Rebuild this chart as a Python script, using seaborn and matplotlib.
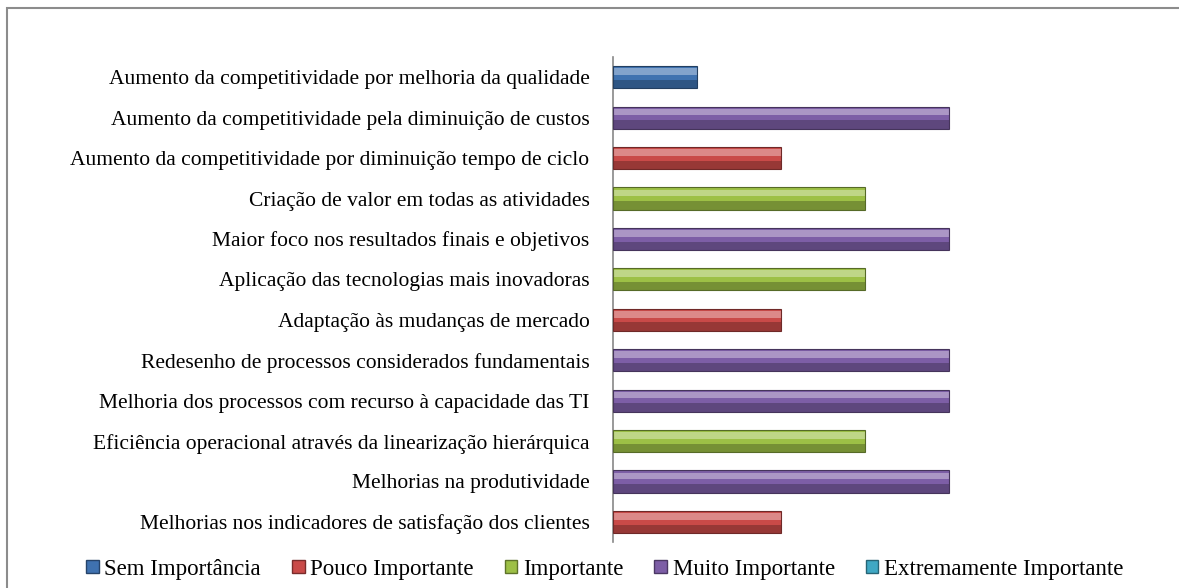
import matplotlib
matplotlib.use("Agg")
import matplotlib.pyplot as plt
import seaborn as sns
import pandas as pd
from matplotlib.patches import Patch, Rectangle

categories = [
    "Aumento da competitividade por melhoria da qualidade",
    "Aumento da competitividade pela diminuição de custos",
    "Aumento da competitividade por diminuição tempo de ciclo",
    "Criação de valor em todas as atividades",
    "Maior foco nos resultados finais e objetivos",
    "Aplicação das tecnologias mais inovadoras",
    "Adaptação às mudanças de mercado",
    "Redesenho de processos considerados fundamentais",
    "Melhoria dos processos com recurso à capacidade das TI",
    "Eficiência operacional através da linearização hierárquica",
    "Melhorias na produtividade",
    "Melhorias nos indicadores de satisfação dos clientes",
]
values = [1, 4, 2, 3, 4, 3, 2, 4, 4, 3, 4, 2]
levels = ["Sem Importância", "Pouco Importante", "Importante",
          "Muito Importante", "Extremamente Importante"]
colors = ["#3F72B0", "#C94A48", "#9DC046", "#7D5EA6", "#3FA8C4"]

df = pd.DataFrame({"cat": categories, "val": values,
                   "nivel": [levels[v - 1] for v in values]})

sns.set_theme(style="white")
plt.rcParams["font.family"] = ["Liberation Serif", "DejaVu Serif"]
plt.rcParams["text.color"] = "black"
plt.rcParams["ytick.color"] = "black"

fig = plt.figure(figsize=(11.79, 5.88), dpi=100)
ax = fig.add_axes([0.52, 0.078, 0.463, 0.825])

palette = dict(zip(levels, colors))
sns.barplot(data=df, y="cat", x="val", hue="nivel", hue_order=levels,
            palette=palette, dodge=False, width=0.55, ax=ax,
            saturation=1, legend=False, edgecolor="none")

# bevel highlight / shadow on each bar
for p in list(ax.patches):
    if p.get_width() <= 0:
        continue
    x0, y0 = p.get_x(), p.get_y()
    w, h = p.get_width(), p.get_height()
    base = p.get_facecolor()
    dark = tuple(c * 0.75 for c in base[:3])
    light = tuple(min(1, c + (1 - c) * 0.35) for c in base[:3])
    ax.add_patch(Rectangle((x0, y0 + h * 0.62), w, h * 0.38, color=dark, lw=0, zorder=3))
    ax.add_patch(Rectangle((x0, y0 + h * 0.1), w, h * 0.3, color=light, lw=0, zorder=3))
    ax.add_patch(Rectangle((x0, y0), w, h, fill=False, ec=tuple(c * 0.55 for c in base[:3]),
                           lw=0.8, zorder=4))

ax.set_xlim(0, 6.5)
ax.set_ylim(len(categories) - 0.5, -0.5)
ax.set_xlabel("")
ax.set_ylabel("")
ax.set_xticks([])
ax.tick_params(axis="y", length=0, pad=17, labelsize=15.5, labelcolor="black")
for s in ["top", "right", "bottom"]:
    ax.spines[s].set_visible(False)
ax.spines["left"].set_color("#888888")
ax.spines["left"].set_linewidth(1.2)

handles = [Patch(facecolor=c, edgecolor=tuple(x * 0.6 for x in matplotlib.colors.to_rgb(c)),
                 label=l) for l, c in zip(levels, colors)]
fig.legend(handles=handles, loc="center", ncol=5, frameon=False,
           bbox_to_anchor=(0.513, 0.032), fontsize=16.5, handlelength=0.55,
           handleheight=0.55, handletextpad=0.25, columnspacing=1.35,
           labelcolor="black")

# outer frame (right and bottom edges lie outside the image)
fig.add_artist(Rectangle((0.006, -0.05), 1.1, 1.036, transform=fig.transFigure,
                         fill=False, ec="#8c8c8c", lw=1.5))

fig.savefig("out.png", dpi=100)
